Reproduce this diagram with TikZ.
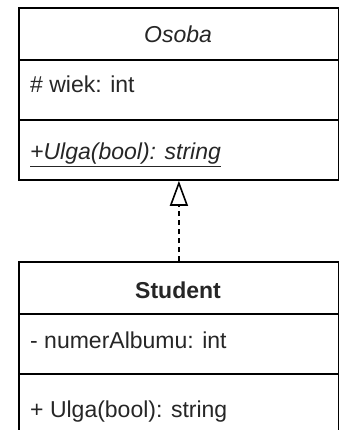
\documentclass[tikz,border=0pt]{standalone}
\usepackage{fontspec}
\setmainfont{Liberation Sans}
\usetikzlibrary{arrows.meta}
\definecolor{txt}{HTML}{262626}
\tikzset{
  comp/.style={draw=black, line width=1.8pt, minimum width=320pt, inner sep=0pt, anchor=north west, fill=white},
  lbl/.style={anchor=base west, inner sep=0pt, text=txt, font=\fontsize{23}{27}\selectfont},
  ttl/.style={anchor=base, inner sep=0pt, text=txt, font=\fontsize{23}{27}\selectfont},
  realize/.style={line width=1.6pt, dash pattern=on 5pt off 4pt, -{Triangle[open, length=25pt, width=18pt, line width=1.6pt]}}
}
\begin{document}
\begin{tikzpicture}[x=1pt,y=-1pt]
\useasboundingbox (0,0) rectangle (339,430);
% Osoba
\node[comp, minimum height=52pt] (otitle) at (18,7) {};
\node[comp, minimum height=60pt] (oattr) at (18,59) {};
\node[comp, minimum height=60pt] (ometh) at (18,119) {};
\node[ttl, font=\fontsize{23}{27}\selectfont\itshape] (otxt) at (178,43) {Osoba};
\node[lbl] (oa) at (30,93) {\# wiek: int};
\node[lbl] (om) at (30,160) {\underline{\textit{+Ulga(bool): string}}};
% Student
\node[comp, minimum height=52pt] (stitle) at (18,261) {};
\node[comp, minimum height=60pt] (sattr) at (18,313) {};
\node[comp, minimum height=80pt] (smeth) at (18,373) {};
\node[ttl, font=\fontsize{23}{27}\selectfont\bfseries] (stxt) at (178,298) {Student};
\node[lbl] (sa) at (30,348) {- numerAlbumu: int};
\node[lbl] (sm) at (30,417) {+ Ulga(bool): string};
% realization
\draw[realize] (stitle.north) -- (ometh.south);
\end{tikzpicture}
\end{document}
